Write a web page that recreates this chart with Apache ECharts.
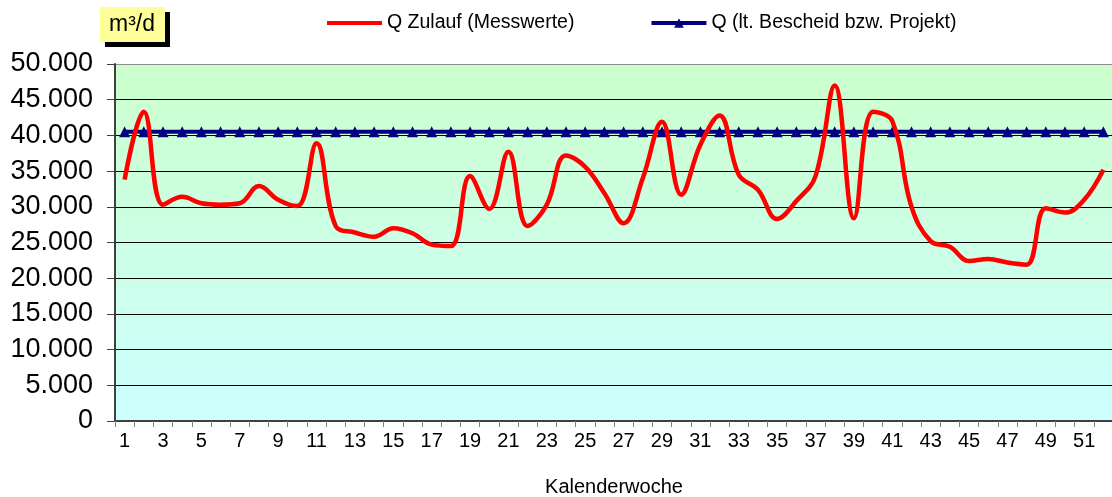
<!DOCTYPE html>
<html>
<head>
<meta charset="utf-8">
<title>Q Zulauf</title>
<script src="https://cdn.jsdelivr.net/npm/echarts@6/dist/echarts.min.js"></script>
<style>
  html, body { margin: 0; padding: 0; background: #fff; }
  #chart { width: 1112px; height: 497px; }
</style>
</head>
<body>
<div id="chart"></div>
<script>
// Kalenderwochen 1..52
var weeks = [];
for (var w = 1; w <= 52; w++) weeks.push(String(w));

// Q Zulauf (Messwerte), m³/d
var zulauf = [
  33800, 43300, 30300, 31400, 30500, 30300, 30500, 32900, 31000, 30100,
  38900, 27300, 26400, 25800, 27000, 26300, 24700, 24500, 34300, 29700,
  37700, 27300, 30300, 37200, 35600, 31900, 27700, 34000, 41900, 31700,
  38700, 42800, 34500, 32400, 28300, 30800, 34300, 47000, 28400, 43300,
  42000, 30000, 25200, 24400, 22400, 22700, 22200, 21900, 29800, 29200,
  31000, 35200
];

// Q (lt. Bescheid bzw. Projekt)
var bescheid = [];
for (var i = 0; i < 52; i++) bescheid.push(40500);

var yTicks = { min: 0, max: 50000, interval: 5000 };

function fmt(v) {
  return String(v).replace(/\B(?=(\d{3})+(?!\d))/g, '.');
}

// Gitterlinien schwarz, oberste (Rahmen) grau
var splitColors = [];
for (var s = 0; s < 10; s++) splitColors.push('#000');
splitColors.push('#909090');

var font = 'Liberation Sans, Arial, sans-serif';
var chart = echarts.init(document.getElementById('chart'));

var option = {
  animation: false,
  graphic: [
    { type: 'rect', shape: { x: 105, y: 12, width: 65, height: 35 }, style: { fill: '#000' } },
    { type: 'rect', shape: { x: 100, y: 7, width: 65, height: 35 }, style: { fill: '#ffff99' } },
    { type: 'text', x: 132, y: 25, style: { text: 'm³/d', font: '23px ' + font, fill: '#000', align: 'center', verticalAlign: 'middle' } }
  ],
  legend: {
    top: 8,
    left: 322,
    itemWidth: 55,
    itemHeight: 12,
    itemGap: 75,
    textStyle: { fontFamily: font, fontSize: 19.5, color: '#000' },
    data: [
      { name: 'Q Zulauf (Messwerte)', icon: 'path://M0,5 L55,5 L55,9 L0,9 Z' },
      { name: 'Q (lt. Bescheid bzw. Projekt)' }
    ],
    lineStyle: { width: 4 }
  },
  grid: {
    left: 115,
    top: 64,
    width: 998,
    bottom: 76,
    outerBoundsMode: 'none',
    containLabel: false,
    show: true,
    borderWidth: 0,
    backgroundColor: new echarts.graphic.LinearGradient(0, 0, 0, 1, [
      { offset: 0, color: '#ccffcc' },
      { offset: 1, color: '#ccffff' }
    ])
  },
  xAxis: {
    type: 'category',
    data: weeks,
    boundaryGap: true,
    name: 'Kalenderwoche',
    nameLocation: 'middle',
    nameGap: 56,
    nameTextStyle: { fontFamily: font, fontSize: 20, color: '#000' },
    axisLine: { lineStyle: { color: '#404040', width: 2 } },
    axisTick: { show: true, length: 6, interval: 0, lineStyle: { color: '#808080' } },
    axisLabel: { interval: 1, margin: 10, fontFamily: font, fontSize: 20, color: '#000' },
    splitLine: { show: false }
  },
  yAxis: {
    type: 'value',
    min: yTicks.min,
    max: yTicks.max,
    interval: yTicks.interval,
    axisLine: { show: true, lineStyle: { color: '#404040', width: 2 } },
    axisTick: { show: true, length: 8, lineStyle: { color: '#404040' } },
    axisLabel: { margin: 22, fontFamily: font, fontSize: 27, color: '#000', formatter: fmt },
    splitLine: { lineStyle: { color: splitColors, width: 1 } }
  },
  series: [
    {
      name: 'Q Zulauf (Messwerte)',
      type: 'line',
      data: zulauf,
      smooth: 0.4,
      symbol: 'none',
      z: 3,
      itemStyle: { color: '#ff0000' },
      lineStyle: { color: '#ff0000', width: 4.5 }
    },
    {
      name: 'Q (lt. Bescheid bzw. Projekt)',
      type: 'line',
      data: bescheid,
      symbol: 'triangle',
      symbolSize: 11,
      showAllSymbol: true,
      z: 2,
      itemStyle: { color: '#000080' },
      lineStyle: { color: '#000080', width: 4 }
    }
  ]
};

chart.setOption(option);
</script>
</body>
</html>
